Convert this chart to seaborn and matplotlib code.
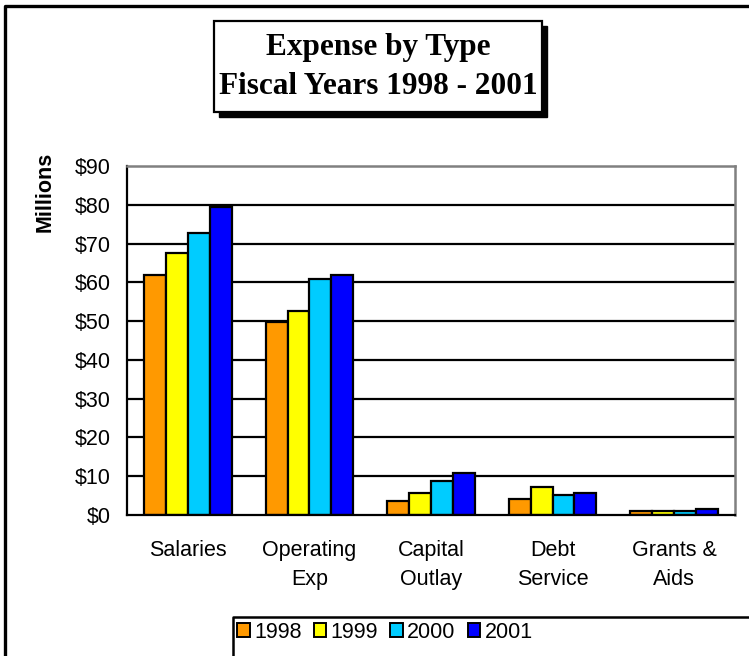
import pandas as pd
import matplotlib.pyplot as plt
import matplotlib.patches as mpatches
from matplotlib.lines import Line2D
import seaborn as sns

# data (millions of dollars)
categories = ["Salaries", "Operating\nExp", "Capital\nOutlay", "Debt\nService", "Grants &\nAids"]
years = ["1998", "1999", "2000", "2001"]
v1998 = [62.0, 49.7, 3.5, 4.0, 1.0]
v1999 = [67.5, 52.6, 5.6, 7.1, 1.0]
v2000 = [72.8, 60.9, 8.7, 5.1, 1.0]
v2001 = [79.5, 61.9, 10.8, 5.6, 1.5]
colors = ["#FF9900", "#FFFF00", "#00CCFF", "#0000FF"]

rows = []
for yr, vals in zip(years, [v1998, v1999, v2000, v2001]):
    for cat, v in zip(categories, vals):
        rows.append({"Tipo": cat, "Ano": yr, "Valor": v})
df = pd.DataFrame(rows)

sns.set_style("white")
plt.rcParams["font.family"] = ["Liberation Sans", "DejaVu Sans"]
plt.rcParams["text.color"] = "black"
plt.rcParams["axes.labelcolor"] = "black"
plt.rcParams["xtick.color"] = "black"
plt.rcParams["ytick.color"] = "black"

W, H = 749, 656
fig = plt.figure(figsize=(W / 100, H / 100), dpi=100)


def fx(px):
    return px / W


def fy(py):
    return 1 - py / H


ax = fig.add_axes([fx(127), fy(515), fx(735) - fx(127), fy(166) - fy(515)])

# gridlines first so bars sit on top
for g in range(10, 90, 10):
    ax.axhline(g, color="black", lw=1.6, zorder=0)

sns.barplot(data=df, x="Tipo", y="Valor", hue="Ano", palette=colors, saturation=1,
            edgecolor="black", linewidth=1.6, width=0.72, gap=0,
            legend=False, ax=ax, zorder=2)

ax.set_xlim(-0.5, 4.5)
ax.set_ylim(0, 90)
ax.set_yticks(range(0, 100, 10))
ax.set_yticklabels([f"${v}" for v in range(0, 100, 10)], fontsize=15.5)
ax.set_xticks(range(len(categories)))
ax.set_xticklabels(categories, fontsize=15.5, linespacing=1.5)
ax.set_xticks([i - 0.5 for i in range(len(categories) + 1)], minor=True)
ax.tick_params(axis="x", which="major", length=0, pad=18)
ax.tick_params(axis="x", which="minor", length=7, width=1.6, color="black", direction="out")
ax.tick_params(axis="y", length=7, width=1.6, color="black", direction="out", pad=5)
ax.set_xlabel("")
ax.set_ylabel("Millions", fontsize=15.5, fontweight="bold")
ax.yaxis.set_label_coords(-(127 - 56) / (735 - 127), (515 - 192) / (515 - 166))

for s in ["left", "bottom"]:
    ax.spines[s].set_color("black")
    ax.spines[s].set_linewidth(1.6)
for s in ["top", "right"]:
    ax.spines[s].set_color("#808080")
    ax.spines[s].set_linewidth(1.8)

# title box with shadow
shadow = mpatches.Rectangle((fx(219), fy(117)), fx(547) - fx(219), fy(26) - fy(117),
                            transform=fig.transFigure, facecolor="black", edgecolor="black", zorder=5)
box = mpatches.Rectangle((fx(214), fy(112)), fx(542) - fx(214), fy(21) - fy(112),
                         transform=fig.transFigure, facecolor="white", edgecolor="black", lw=1.6, zorder=6)
fig.patches.extend([shadow, box])
fig.text(fx(378), fy(48), "Expense by Type", ha="center", va="center", fontsize=22.5,
         fontweight="bold", family=["Liberation Serif", "DejaVu Serif"], zorder=7)
fig.text(fx(378), fy(86), "Fiscal Years 1998 - 2001", ha="center", va="center", fontsize=22.5,
         fontweight="bold", family=["Liberation Serif", "DejaVu Serif"], zorder=7)

# legend
handles = [mpatches.Patch(facecolor=c, edgecolor="black", linewidth=1.4) for c in colors]
fig.legend(handles, years, loc="center left", bbox_to_anchor=(fx(237), fy(632)), ncol=4,
           frameon=False, fontsize=15.5, handlelength=0.6, handleheight=0.6,
           handletextpad=0.2, columnspacing=0.55, borderpad=0, borderaxespad=0)
fig.lines.append(Line2D([fx(233), fx(233), 1.0], [0.0, fy(617), fy(617)],
                        transform=fig.transFigure, color="black", lw=1.8))

# outer border (top and left edges visible)
fig.lines.append(Line2D([fx(5), fx(5), 1.0], [0.0, fy(6), fy(6)],
                        transform=fig.transFigure, color="black", lw=2.4))

plt.savefig("out.png", dpi=100)
